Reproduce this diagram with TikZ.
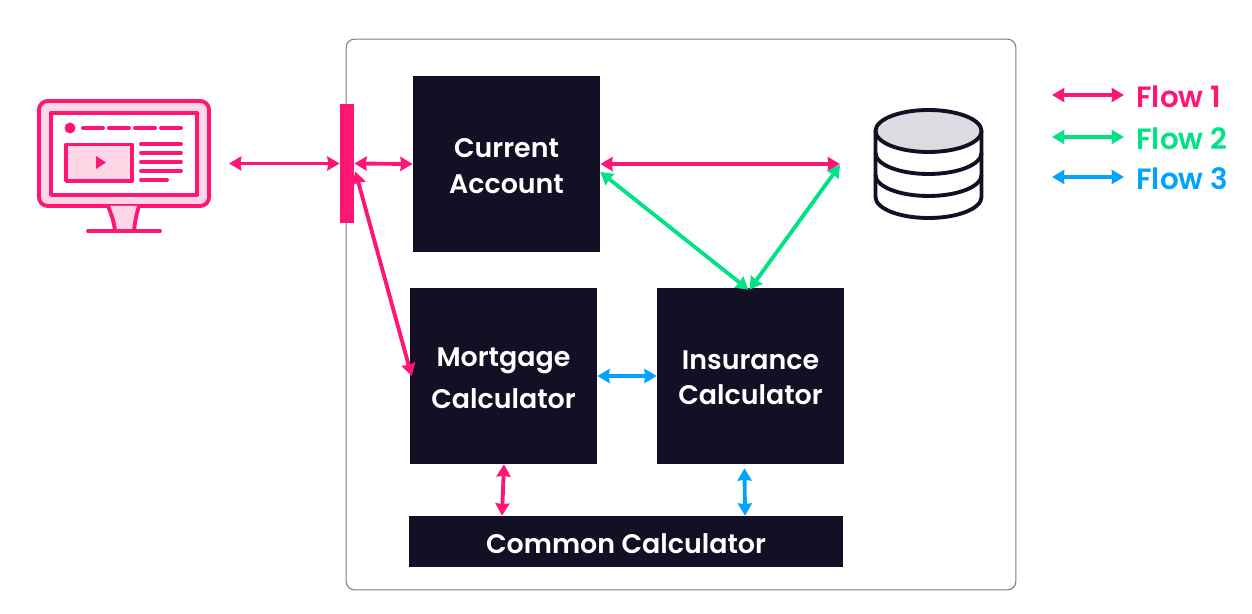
\documentclass[tikz,border=0pt]{standalone}
\usepackage{fontspec}
\setmainfont{Poppins SemiBold}
\usetikzlibrary{arrows.meta,calc,positioning}
\definecolor{flowpink}{RGB}{255,22,117}
\definecolor{flowgreen}{RGB}{0,227,132}
\definecolor{flowblue}{RGB}{0,163,255}
\definecolor{boxdark}{RGB}{19,15,37}
\definecolor{screenpink}{RGB}{255,214,230}
\definecolor{cylgrey}{RGB}{220,219,225}
\newcommand{\boxline}[1]{\raisebox{-1.2pt}[\height][\depth]{#1}}
\tikzset{
 calcbox/.style={fill=boxdark,text=white,minimum width=3.74cm,align=center,font=\fontsize{15.3}{20}\selectfont,inner sep=0pt},
 flow/.style={<->,line width=2.2pt},
 legendlab/.style={anchor=west,font=\fontsize{16.7}{19}\selectfont,inner sep=0pt},
 icon/.style={flowpink,line width=2.2pt,line cap=round,line join=round},
 cyl/.style={boxdark,line width=2.2pt}
}
\begin{document}
\begin{tikzpicture}[x=.02cm,y=-.02cm,>={Stealth[length=7pt,width=8pt,inset=.5pt]},line cap=round,line join=round]
 \useasboundingbox (0,0) rectangle (1252,614);
 \node[draw=boxdark!55,line width=.6pt,rounded corners=5pt,minimum width=13.4cm,minimum height=11.02cm,inner sep=0pt] (app) at (681,314.5) {};
 % the monitor
 \draw[icon,fill=screenpink,rounded corners=5pt] (39,101) rectangle (209,206);
 \draw[icon,fill=white] (51,113) rectangle (197,195);
 \fill[flowpink] (70,128) circle(5.5);
 \foreach \x/\xx in {83/103,109/129,135/155,161/181}{
  \draw[icon] (\x,128)--(\xx,128);
 }
 \draw[icon,fill=screenpink] (66,144.5) rectangle (132,181);
 \fill[flowpink] (96,156)--(106,162.5)--(96,169)--cycle;
 \foreach \y/\xx in {144/181,153/181,162/181,171/181,180/167}{
  \draw[icon] (141,\y)--(\xx,\y);
 }
 \draw[icon,fill=screenpink] (108,206)..controls(112,216)and(114,222)..(115,231)
  --(134,231)..controls(135,222)and(136,216)..(139,206);
 \draw[icon] (88,231)--(160,231);
 \coordinate (monitor) at (229,163.5);
 % the boxes
 \node[fill=flowpink,minimum width=.28cm,minimum height=2.38cm,inner sep=0pt] (gateway) at (347,163.5) {};
 \node[calcbox,minimum height=3.52cm] (current) at (506.5,164) {\boxline{Current}\\\boxline{Account}};
 \node[calcbox,minimum height=3.52cm,font=\fontsize{15.3}{24}\selectfont] (mortgage) at (503.5,376) {\boxline{Mortgage}\\\boxline{Calculator}};
 \node[calcbox,minimum height=3.52cm] (insurance) at (750.5,376) {\boxline{Insurance}\\\boxline{Calculator}};
 \node[calcbox,minimum width=8.68cm,minimum height=1.02cm] (common) at (626,541.5) {\boxline{Common Calculator}};
 % the database
 \draw[cyl,fill=white] (875.5,131)--(875.5,197) arc[start angle=180,end angle=0,x radius=53,y radius=21]--(981.5,131);
 \draw[cyl] (875.5,175) arc[start angle=180,end angle=0,x radius=53,y radius=21];
 \draw[cyl] (875.5,153) arc[start angle=180,end angle=0,x radius=53,y radius=21];
 \draw[cyl,fill=cylgrey] (928.5,131) ellipse[x radius=53,y radius=21];
 \coordinate (database) at (840,164);
 % the flows
 \draw[flow,flowpink] (monitor)--(gateway.west);
 \draw[flow,flowpink] (gateway.east)--(current.west);
 \draw[flow,flowpink] ($(gateway.east)+(1,8)$)--($(mortgage.west)+(2,0)$);
 \draw[flow,flowpink] (current.east)--(database);
 \draw[flow,flowgreen] ($(current.east)+(0,8)$)--($(insurance.north)+(-2,2)$);
 \draw[flow,flowgreen] ($(insurance.north)+(-1,2)$)--($(database)+(0,1)$);
 \draw[flow,flowblue] (mortgage.east)--(insurance.west);
 \draw[flow,flowpink] ($(mortgage.south)+(.5,0)$)--($(common.north)+(-124,0)$);
 \draw[flow,flowblue] ($(insurance.south)+(-6,4)$)--($(common.north)+(119,0)$);
 % the legend
 \foreach \y/\col/\lab/\nam in {95/flowpink/Flow 1/one,137/flowgreen/Flow 2/two,177/flowblue/Flow 3/three}{
  \coordinate (start\nam) at (1052,\y);
  \node[legendlab,text=\col] (label\nam) at (1136,\y+2) {\lab};
  \draw[flow,\col] (start\nam)--($(label\nam.west)+(-12,-2)$);
 }
\end{tikzpicture}
\end{document}
